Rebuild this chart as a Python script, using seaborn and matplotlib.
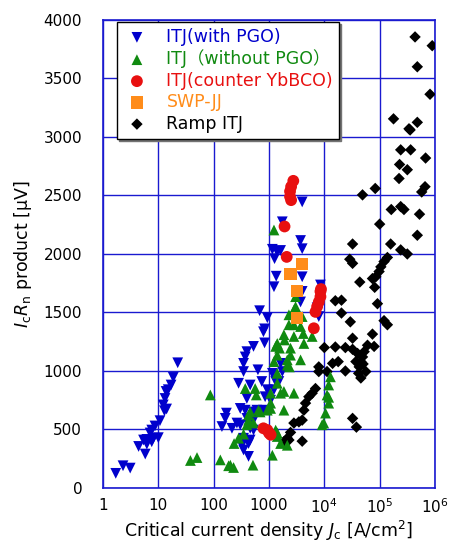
import matplotlib
matplotlib.use('Agg')
import matplotlib.pyplot as plt
import seaborn as sns
import pandas as pd
from matplotlib.ticker import FixedLocator, FixedFormatter, NullLocator

sns.set_style('white')
plt.rcParams['font.family'] = ['DejaVu Sans', 'Noto Sans CJK JP']
plt.rcParams['mathtext.fontset'] = 'dejavusans'
plt.rcParams['text.color'] = 'black'
plt.rcParams['axes.labelcolor'] = 'black'

# ---------------- data ----------------
series_labels = ['ITJ(with PGO)', 'ITJ（without PGO）', 'ITJ(counter YbBCO)', 'SWP-JJ', 'Ramp ITJ']

with_pgo_jc = [22.4, 18.6, 17.0, 15.1, 13.8, 13.2, 12.3, 14.1, 12.9, 10.7, 8.7, 7.6, 7.1, 10.0, 8.1, 6.2,
               5.4, 7.6, 6.2, 4.4, 5.8, 3.1, 2.3, 1.7,
               676, 933, 832, 794, 832, 525, 398, 372, 347, 347, 631, 1620, 1740, 1150, 741, 1320, 282,
               457, 933, 1230, 398, 851, 1070, 302, 372, 603, 525, 170, 162, 141, 214, 302, 427, 263,
               398, 525, 457, 525, 347, 457, 427, 347, 324, 427, 1510, 794,
               1150, 1400, 1620, 1260, 1350, 1230, 3720, 3980, 3980, 1740, 3980, 3980, 3720,
               8510, 7940, 7410]
with_pgo_icrn = [1070, 945, 880, 840, 825, 765, 710, 675, 660, 575, 530, 495, 470, 430, 425, 415,
                 410, 395, 375, 355, 290, 170, 190, 125,
                 1515, 1455, 1360, 1335, 1240, 1210, 1165, 1120, 1065, 995, 1010, 1065, 995, 980, 910, 910, 895,
                 880, 840, 840, 765, 780, 750, 680, 665, 665, 650, 640, 595, 525, 510, 540, 540, 555,
                 595, 580, 510, 495, 425, 410, 380, 325, 365, 270, 910, 665,
                 2040, 2020, 2030, 1960, 1810, 1720, 2115, 2045, 2445, 2275, 1805, 1680, 1590,
                 1735, 1465, 1540]

without_pgo_jc = [87, 38, 50, 132, 186, 229, 200, 513, 234, 282, 347, 372, 589, 562, 457, 427, 427, 398,
                  525, 692, 646, 933, 1070, 1070, 1070, 1410, 1410, 1620, 1860, 1860, 1410, 1320, 1410,
                  2140, 1150, 1620, 1230, 1410, 1550, 1320, 1410, 1910, 1860, 2820, 2340, 2140, 2140,
                  2450, 2450, 2820, 2290, 2820, 2290, 2820, 3020, 3020, 3720, 3980, 4170, 4270, 3720,
                  6030, 1230, 12900, 12000, 11200, 12000, 12000, 10500, 9770, 9120]
without_pgo_icrn = [795, 235, 260, 240, 190, 175, 195, 195, 380, 425, 460, 850, 795, 850, 650, 580, 625, 540,
                    555, 650, 665, 665, 810, 725, 680, 895, 980, 810, 825, 665, 470, 495, 440,
                    365, 280, 380, 1080, 1135, 1195, 1210, 1235, 1265, 1310, 1295, 1035, 1050, 1095,
                    1195, 1135, 810, 1395, 1395, 1480, 1520, 1550, 1635, 1380, 1465, 1320, 1235, 1095,
                    1295, 2205, 950, 880, 795, 725, 775, 640, 555, 540]

counter_jc = [2750, 2510, 2400, 2400, 2510, 1910, 2090, 8510, 8510, 7940, 7410, 6920, 6460,
              933, 1000, 794, 1070, 8700]
counter_icrn = [2625, 2575, 2535, 2490, 2460, 2235, 1975, 1680, 1635, 1590, 1550, 1505, 1365,
                495, 470, 510, 455, 1700]

swp_jc = [3980, 2450, 3160, 3160]
swp_icrn = [1915, 1830, 1685, 1450]

ramp_jc = [436000, 891000, 479000, 813000, 178000, 479000, 355000, 339000, 240000, 363000, 676000,
           229000, 316000, 224000, 661000, 575000, 83200, 49000, 162000, 240000, 275000, 525000,
           100000, 479000, 32400, 158000, 240000, 316000, 138000, 28800, 32400, 120000, 105000,
           97700, 85100, 74100, 43700, 81300, 91200, 15800, 20400, 20400, 29500, 120000, 138000,
           74100, 32400, 10000, 15800, 24000, 32400, 60300, 79400, 52500, 49000, 45700, 42700,
           56200, 45700, 37200, 24000, 17800, 14100, 7940, 7940, 11200, 6920, 6030, 5250, 4570,
           4270, 3980, 3470, 2820, 2450, 2140, 1860, 2290, 3980, 32400, 38000, 39800, 50100, 41700]
ramp_icrn = [3855, 3780, 3600, 3365, 3155, 3125, 3060, 3070, 2890, 2890, 2820,
             2765, 2720, 2645, 2575, 2530, 2560, 2505, 2380, 2405, 2380, 2340,
             2255, 2160, 2085, 2085, 2035, 2000, 1970, 1955, 1920, 1935, 1890,
             1850, 1805, 1790, 1760, 1715, 1575, 1600, 1605, 1495, 1420, 1430, 1395,
             1315, 1280, 1200, 1205, 1200, 1185, 1220, 1210, 1165, 1120, 1080, 1035,
             995, 940, 1080, 1000, 1080, 1065, 1035, 995, 995, 850, 810, 780, 725,
             665, 580, 565, 555, 475, 425, 395, 410, 400, 595, 520, 1150, 1060, 980]

x_tick_vals = [1, 10, 100, 1000, 1e4, 1e5, 1e6]
x_tick_labels = ['1', '10', '100', '1000', r'$10^4$', r'$10^5$', r'$10^6$']
y_tick_vals = [0, 500, 1000, 1500, 2000, 2500, 3000, 3500, 4000]

# ---------------- figure ----------------
fig = plt.figure(figsize=(4.49, 5.47), dpi=100)
fig.patch.set_facecolor('white')
ax = fig.add_axes([0.2294, 0.1079, 0.7394, 0.8556])

c_blue = '#0000cc'
c_green = '#108a10'
c_red = '#e81010'
c_orange = '#ff8c1a'
c_black = '#000000'
grid_c = '#1a1ad0'

specs = [
    (with_pgo_jc, with_pgo_icrn, series_labels[0], 'v', c_blue, 60, 3),
    (without_pgo_jc, without_pgo_icrn, series_labels[1], '^', c_green, 60, 4),
    (counter_jc, counter_icrn, series_labels[2], 'o', c_red, 72, 6),
    (swp_jc, swp_icrn, series_labels[3], 's', c_orange, 78, 5),
    (ramp_jc, ramp_icrn, series_labels[4], 'D', c_black, 34, 3.5),
]
for xs, ys, lab, mk, col, sz, zo in specs:
    df = pd.DataFrame({'Jc': xs, 'IcRn': ys})
    sns.scatterplot(data=df, x='Jc', y='IcRn', ax=ax, marker=mk, color=col, s=sz,
                    edgecolor='none', linewidth=0, label=lab, zorder=zo)

ax.set_xscale('log')
ax.set_xlim(1, 1e6)
ax.set_ylim(0, 4000)
ax.xaxis.set_major_locator(FixedLocator(x_tick_vals))
ax.xaxis.set_major_formatter(FixedFormatter(x_tick_labels))
ax.xaxis.set_minor_locator(NullLocator())
ax.yaxis.set_major_locator(FixedLocator(y_tick_vals))

ax.grid(True, which='major', color=grid_c, linewidth=1.0, zorder=0)
ax.set_axisbelow(True)
for sp in ax.spines.values():
    sp.set_color(grid_c)
    sp.set_linewidth(1.2)
    sp.set_visible(True)

ax.tick_params(axis='both', which='major', direction='in', length=5, width=1.2, color=grid_c,
               labelsize=11, labelcolor='black')
ax.tick_params(axis='y', pad=15)
ax.tick_params(axis='x', pad=7)

ax.set_xlabel(r'Critical current density $J_{\rm c}$ [A/cm$^2$]', fontsize=12.5, labelpad=2)
ax.set_ylabel(r'$I_{\rm c}R_{\rm n}$ product [μV]', fontsize=12.5, labelpad=7)

leg = ax.legend(loc='upper left', bbox_to_anchor=(0.042, 0.996), frameon=True, fancybox=False,
                edgecolor='black', framealpha=1, fontsize=12.5, handletextpad=0.9,
                labelspacing=0.2, borderpad=0.35, handlelength=1.6, borderaxespad=0,
                shadow={'ox': 1.5, 'oy': -1.5, 'color': '0.45', 'alpha': 1})
leg.get_frame().set_linewidth(1.0)
leg.set_zorder(10)
text_colors = [c_blue, c_green, c_red, c_orange, c_black]
for t, c in zip(leg.get_texts(), text_colors):
    t.set_color(c)

fig.savefig('out.png', dpi=100, facecolor='white')
